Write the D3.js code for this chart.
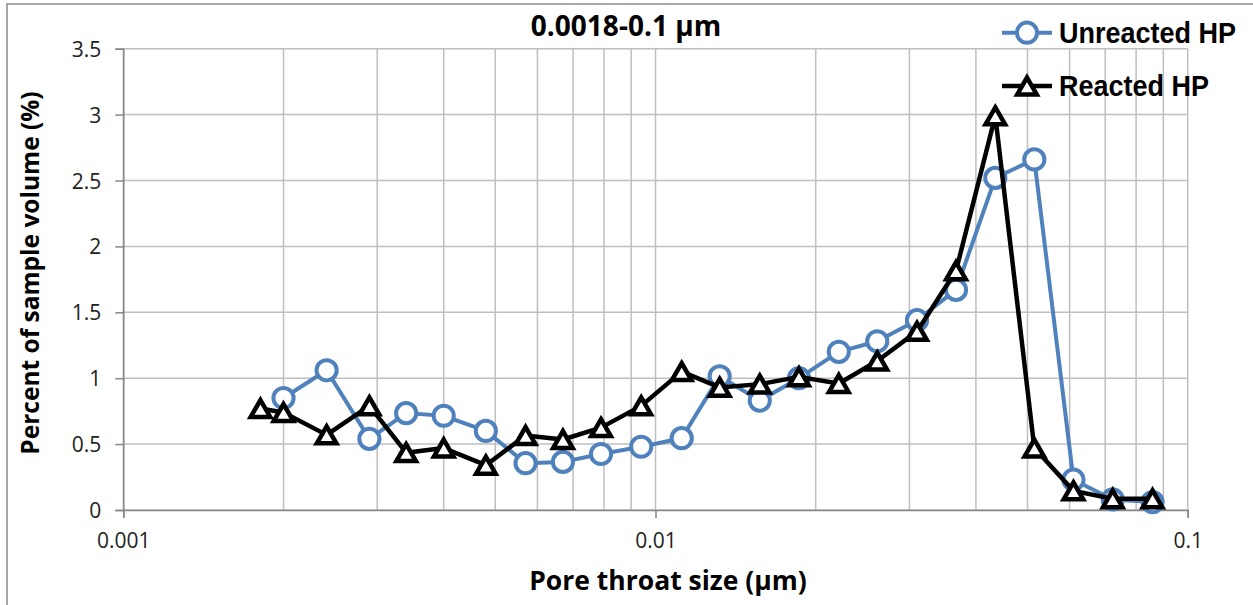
<!DOCTYPE html>
<html>
<head>
<meta charset="utf-8">
<script src="https://cdn.jsdelivr.net/npm/d3@7"></script>
<style>
  body { margin: 0; background: #fff; }
  svg { display: block; }
  .tick-label { font-family: "Open Sans", sans-serif; font-size: 21px; fill: #222; }
  .axis-title { font-family: "Open Sans", sans-serif; font-weight: bold; fill: #000; }
  .legend-label { font-family: "Liberation Sans", Arial, sans-serif; font-weight: bold; font-size: 30px; fill: #000; }
</style>
</head>
<body>
<svg id="chart"></svg>
<script>
// Pore throat sizes (µm), shared bins
const poreSizes = [0.00181, 0.0020, 0.00241, 0.0029, 0.0034, 0.0040, 0.0048, 0.0057, 0.0067, 0.0079,
  0.0094, 0.0112, 0.0132, 0.0157, 0.0186, 0.0221, 0.0261, 0.0310, 0.0367, 0.0435,
  0.0515, 0.0610, 0.0723, 0.0859];

// Percent of sample volume (%)
const unreacted = [null, 0.85, 1.06, 0.54, 0.735, 0.715, 0.60, 0.355, 0.365, 0.425,
  0.48, 0.545, 1.015, 0.83, 1.0, 1.20, 1.28, 1.44, 1.67, 2.52,
  2.66, 0.23, 0.08, 0.06];
const reacted = [0.77, 0.74, 0.57, 0.79, 0.435, 0.47, 0.34, 0.565, 0.535, 0.625,
  0.79, 1.05, 0.93, 0.955, 1.01, 0.96, 1.13, 1.355, 1.815, 2.99,
  0.47, 0.145, 0.085, 0.085];

const seriesNames = ['Unreacted HP', 'Reacted HP'];
const xTickValues = [0.001, 0.01, 0.1];
const yTickValues = [0, 0.5, 1, 1.5, 2, 2.5, 3, 3.5];
const chartTitle = '0.0018-0.1 µm';
const xTitle = 'Pore throat size (µm)';
const yTitle = 'Percent of sample volume (%)';

// triangle centred on its bounding box (like the spreadsheet marker)
const boxTriangle = {
  draw(context, size) {
    const s = Math.sqrt(size);
    const h = s * Math.sqrt(3) / 2;
    context.moveTo(0, -h / 2);
    context.lineTo(s / 2, h / 2);
    context.lineTo(-s / 2, h / 2);
    context.closePath();
  }
};

class LogLineChart {
  constructor(_config) {
    this.config = {
      parentElement: _config.parentElement,
      containerWidth: _config.containerWidth || 1253,
      containerHeight: _config.containerHeight || 605,
      margin: _config.margin || {top: 48.7, right: 65.3, bottom: 95, left: 123.3}
    };
    this.initVis();
  }

  initVis() {
    let vis = this;

    vis.width = vis.config.containerWidth - vis.config.margin.left - vis.config.margin.right;
    vis.height = vis.config.containerHeight - vis.config.margin.top - vis.config.margin.bottom;

    vis.xScale = d3.scaleLog()
        .domain([0.001, 0.1])
        .range([0, vis.width]);

    vis.yScale = d3.scaleLinear()
        .domain([0, 3.5])
        .range([vis.height, 0]);

    vis.svg = d3.select(vis.config.parentElement)
        .attr('width', vis.config.containerWidth)
        .attr('height', vis.config.containerHeight);

    // outer chart frame (right and bottom edges fall outside the picture)
    vis.svg.append('rect')
        .attr('x', 7)
        .attr('y', 4)
        .attr('width', vis.config.containerWidth + 20)
        .attr('height', vis.config.containerHeight + 20)
        .attr('fill', 'none')
        .attr('stroke', '#8c8c8c')
        .attr('stroke-width', 1.5);

    vis.chart = vis.svg.append('g')
        .attr('transform', `translate(${vis.config.margin.left},${vis.config.margin.top})`);

    vis.gridG = vis.chart.append('g').attr('class', 'grid');
    vis.xAxisG = vis.chart.append('g')
        .attr('class', 'axis x-axis')
        .attr('transform', `translate(0,${vis.height})`);
    vis.yAxisG = vis.chart.append('g').attr('class', 'axis y-axis');
    vis.linesG = vis.chart.append('g').attr('class', 'lines');

    vis.svg.append('text')
        .attr('class', 'axis-title')
        .attr('x', 626)
        .attr('y', 36)
        .attr('text-anchor', 'middle')
        .style('font-size', '28px')
        .text(chartTitle);

    vis.svg.append('text')
        .attr('class', 'axis-title')
        .attr('x', 668)
        .attr('y', 590)
        .attr('text-anchor', 'middle')
        .style('font-size', '26.5px')
        .text(xTitle);

    vis.svg.append('text')
        .attr('class', 'axis-title')
        .attr('transform', 'translate(39,273) rotate(-90)')
        .attr('text-anchor', 'middle')
        .style('font-size', '24.5px')
        .text(yTitle);
  }

  updateVis() {
    let vis = this;

    vis.series = [
      {name: seriesNames[0], values: poreSizes.map((x, i) => ({x, y: unreacted[i]})),
        color: '#4f81bd', symbol: d3.symbolCircle, size: 320, width: 4},
      {name: seriesNames[1], values: poreSizes.map((x, i) => ({x, y: reacted[i]})),
        color: '#000000', symbol: boxTriangle, size: 380, width: 4.5}
    ];

    vis.line = d3.line()
        .defined(d => d.y != null)
        .x(d => vis.xScale(d.x))
        .y(d => vis.yScale(d.y));

    vis.renderVis();
  }

  renderVis() {
    let vis = this;

    // vertical gridlines at every log step, horizontal at every y tick
    vis.gridG.selectAll('.vgrid')
        .data(vis.xScale.ticks())
      .join('line')
        .attr('class', 'vgrid')
        .attr('x1', d => vis.xScale(d))
        .attr('x2', d => vis.xScale(d))
        .attr('y1', 0)
        .attr('y2', vis.height)
        .attr('stroke', '#bfbfbf')
        .attr('stroke-width', 1.5);

    vis.gridG.selectAll('.hgrid')
        .data(yTickValues)
      .join('line')
        .attr('class', 'hgrid')
        .attr('x1', 0)
        .attr('x2', vis.width)
        .attr('y1', d => vis.yScale(d))
        .attr('y2', d => vis.yScale(d))
        .attr('stroke', '#bfbfbf')
        .attr('stroke-width', 1.5);

    vis.xAxisG.call(d3.axisBottom(vis.xScale)
        .tickValues(xTickValues)
        .tickFormat(d3.format('~g'))
        .tickSize(8)
        .tickPadding(14));

    vis.yAxisG.call(d3.axisLeft(vis.yScale)
        .tickValues(yTickValues)
        .tickFormat(d3.format('~g'))
        .tickSize(8)
        .tickPadding(14));

    vis.chart.selectAll('.axis path, .axis line')
        .attr('stroke', '#868686')
        .attr('stroke-width', 1.5);
    vis.chart.selectAll('.axis text')
        .attr('class', 'tick-label')
        .attr('fill', null);
    vis.yAxisG.selectAll('text').attr('dy', '0.36em');
    vis.xAxisG.selectAll('text').attr('dy', '0.75em');

    const symbolGen = s => d3.symbol().type(s.symbol).size(s.size)();

    const group = vis.linesG.selectAll('.series')
        .data(vis.series)
      .join('g')
        .attr('class', 'series');

    group.append('path')
        .attr('d', d => vis.line(d.values))
        .attr('fill', 'none')
        .attr('stroke', d => d.color)
        .attr('stroke-width', d => d.width)
        .attr('stroke-linejoin', 'round');

    group.each(function(s) {
      d3.select(this).selectAll('.marker')
          .data(s.values.filter(d => d.y != null))
        .join('path')
          .attr('class', 'marker')
          .attr('transform', d => `translate(${vis.xScale(d.x)},${vis.yScale(d.y)})`)
          .attr('d', symbolGen(s))
          .attr('fill', '#fff')
          .attr('stroke', s.color)
          .attr('stroke-width', s.width);
    });

    // legend, top right
    const legend = vis.svg.selectAll('.legend-item')
        .data(vis.series)
      .join('g')
        .attr('class', 'legend-item')
        .attr('transform', (d, i) => `translate(1002,${32.7 + i * 53.3})`);

    legend.append('line')
        .attr('x1', 0)
        .attr('x2', 50)
        .attr('stroke', d => d.color)
        .attr('stroke-width', d => d.width);

    legend.append('path')
        .attr('transform', 'translate(25,0)')
        .attr('d', d => symbolGen(d))
        .attr('fill', '#fff')
        .attr('stroke', d => d.color)
        .attr('stroke-width', d => d.width);

    // narrow bold lettering: squeeze the glyphs horizontally
    legend.append('text')
        .attr('class', 'legend-label')
        .attr('transform', 'translate(57,10) scale(0.9,1)')
        .text(d => d.name);
  }
}

const chart = new LogLineChart({parentElement: '#chart'});
chart.updateVis();
</script>
</body>
</html>
